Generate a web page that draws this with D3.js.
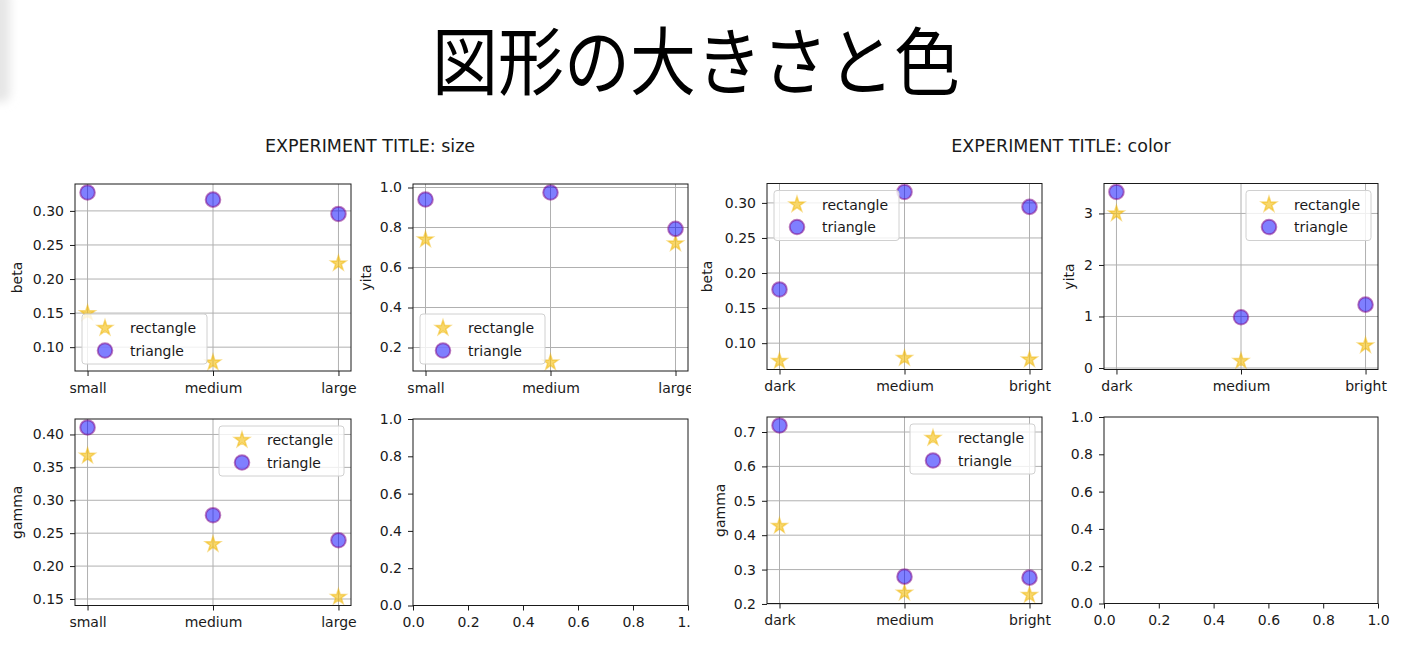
<!DOCTYPE html>
<html>
<head>
<meta charset="utf-8">
<script src="https://cdn.jsdelivr.net/npm/d3@7"></script>
<style>
  html, body { margin: 0; padding: 0; background: #ffffff; }
  svg { display: block; }
  text { font-family: "DejaVu Sans", sans-serif; fill: #1a1a1a; }
</style>
</head>
<body>
<svg id="chart" width="1402" height="671"></svg>
<script>
// ---------------- data ----------------
const mainTitle = "図形の大きさと色";
const figureTitles = ["EXPERIMENT TITLE: size", "EXPERIMENT TITLE: color"];
const seriesNames = ["rectangle", "triangle"];

const categoriesSize = ["small", "medium", "large"];
const categoriesColor = ["dark", "medium", "bright"];

const sizeBetaRect  = [0.150, 0.0775, 0.223];
const sizeBetaTri   = [0.327, 0.3165, 0.2955];
const sizeYitaRect  = [0.74, 0.125, 0.72];
const sizeYitaTri   = [0.94, 0.975, 0.793];
const sizeGammaRect = [0.3675, 0.2332, 0.153];
const sizeGammaTri  = [0.4106, 0.2773, 0.2393];

const colorBetaRect  = [0.0745, 0.0787, 0.0766];
const colorBetaTri   = [0.1766, 0.3156, 0.2943];
const colorYitaRect  = [3.0, 0.135, 0.438];
const colorYitaTri   = [3.417, 0.985, 1.23];
const colorGammaRect = [0.427, 0.2328, 0.226];
const colorGammaTri  = [0.719, 0.2794, 0.2765];

const ticksBeta      = [0.10, 0.15, 0.20, 0.25, 0.30];
const ticksSizeYita  = [0.2, 0.4, 0.6, 0.8, 1.0];
const ticksSizeGamma = [0.15, 0.20, 0.25, 0.30, 0.35, 0.40];
const ticksColorYita = [0, 1, 2, 3];
const ticksColorGamma= [0.2, 0.3, 0.4, 0.5, 0.6, 0.7];
const ticksEmpty     = [0.0, 0.2, 0.4, 0.6, 0.8, 1.0];

// ---------------- layout ----------------
const svg = d3.select("#chart");
const W = 1402, H = 671;

// faint soft shadow at the top-left edge
const defs = svg.append("defs");
defs.append("filter").attr("id", "blur").attr("x", "-50%").attr("y", "-50%")
  .attr("width", "200%").attr("height", "200%")
  .append("feGaussianBlur").attr("stdDeviation", 5);
svg.append("rect").attr("x", -12).attr("y", -10).attr("width", 22).attr("height", 112).attr("rx", 8)
  .attr("fill", "#e6e6e6").attr("filter", "url(#blur)");

svg.append("text")
  .attr("transform", "translate(696,89) scale(1,1.12)")
  .attr("text-anchor", "middle")
  .style("font-family", '"Noto Sans CJK JP", sans-serif')
  .style("font-size", "66px")
  .style("fill", "#000")
  .text(mainTitle);

const figs = [
  { x0: 0, x1: 691, titleX: 370, titleY: 152 },
  { x0: 700, x1: 1402, titleX: 1061, titleY: 152 }
];
figs.forEach((f, i) => {
  defs.append("clipPath").attr("id", "fig" + i)
    .append("rect").attr("x", f.x0).attr("y", 0).attr("width", f.x1 - f.x0).attr("height", H);
  f.g = svg.append("g").attr("clip-path", `url(#fig${i})`);
  f.g.append("text").attr("x", f.titleX).attr("y", f.titleY)
    .attr("text-anchor", "middle").style("font-size", "17.5px").text(figureTitles[i]);
});

const panels = [
  { fig: 0, box: [75, 184, 351, 371], cats: categoriesSize, rect: sizeBetaRect, tri: sizeBetaTri,
    ticks: ticksBeta, fmt: ".2f", label: "beta", labelX: 17, legend: "lower left" },
  { fig: 0, box: [413, 184, 688, 371], cats: categoriesSize, rect: sizeYitaRect, tri: sizeYitaTri,
    ticks: ticksSizeYita, fmt: ".1f", label: "yita", labelX: 366, legend: "lower left" },
  { fig: 0, box: [75, 419, 351, 605.5], cats: categoriesSize, rect: sizeGammaRect, tri: sizeGammaTri,
    ticks: ticksSizeGamma, fmt: ".2f", label: "gamma", labelX: 17, legend: "upper right" },
  { fig: 0, box: [413, 419, 688, 605.5], empty: true, ticks: ticksEmpty, fmt: ".1f" },
  { fig: 1, box: [767, 183.5, 1042, 369.5], cats: categoriesColor, rect: colorBetaRect, tri: colorBetaTri,
    ticks: ticksBeta, fmt: ".2f", label: "beta", labelX: 707, legend: "upper left" },
  { fig: 1, box: [1104, 183.5, 1378, 369.5], cats: categoriesColor, rect: colorYitaRect, tri: colorYitaTri,
    ticks: ticksColorYita, fmt: "d", label: "yita", labelX: 1069, legend: "upper right" },
  { fig: 1, box: [767, 417, 1042, 603.5], cats: categoriesColor, rect: colorGammaRect, tri: colorGammaTri,
    ticks: ticksColorGamma, fmt: ".1f", label: "gamma", labelX: 720, legend: "upper right" },
  { fig: 1, box: [1104, 417, 1378, 603.5], empty: true, ticks: ticksEmpty, fmt: ".1f" }
];

const starPath = d3.symbol().type(d3.symbolStar).size(72)();
const gridColor = "#b0b0b0";
const spineColor = "#1a1a1a";

function drawStar(sel) {
  sel.attr("d", starPath)
    .attr("fill", "#f5c21b").attr("fill-opacity", 0.65)
    .attr("stroke", "#f0b400").attr("stroke-opacity", 0.45).attr("stroke-width", 1.5);
}
function drawCircle(sel) {
  sel.attr("r", 7.3)
    .attr("fill", "blue").attr("fill-opacity", 0.5)
    .attr("stroke", "purple").attr("stroke-opacity", 0.5).attr("stroke-width", 2);
}

panels.forEach(p => {
  const g = figs[p.fig].g.append("g");
  const [L, T, R, B] = p.box;
  let x, y;
  if (p.empty) {
    x = d3.scaleLinear().domain([0, 1]).range([L, R]);
    y = d3.scaleLinear().domain([0, 1]).range([B, T]);
  } else {
    x = d3.scalePoint().domain(p.cats).range([L, R]).padding(0.1);
    const all = p.rect.concat(p.tri);
    const lo = d3.min(all), hi = d3.max(all), m = (hi - lo) * 0.05;
    y = d3.scaleLinear().domain([lo - m, hi + m]).range([B, T]);
  }

  // grid
  if (!p.empty) {
    g.append("g").selectAll("line").data(p.ticks).join("line")
      .attr("x1", L).attr("x2", R).attr("y1", d => y(d)).attr("y2", d => y(d))
      .attr("stroke", gridColor).attr("stroke-width", 1);
    g.append("g").selectAll("line").data(p.cats).join("line")
      .attr("x1", d => x(d)).attr("x2", d => x(d)).attr("y1", T).attr("y2", B)
      .attr("stroke", gridColor).attr("stroke-width", 1);
  }

  // axes
  const xAxis = p.empty
    ? d3.axisBottom(x).tickValues(ticksEmpty).tickFormat(d3.format(".1f"))
    : d3.axisBottom(x);
  const yAxis = d3.axisLeft(y).tickValues(p.ticks).tickFormat(d3.format(p.fmt));
  [
    g.append("g").attr("transform", `translate(0,${B})`).call(xAxis.tickSize(5).tickPadding(7)),
    g.append("g").attr("transform", `translate(${L},0)`).call(yAxis.tickSize(5).tickPadding(6))
  ].forEach(a => {
    a.select(".domain").remove();
    a.selectAll(".tick line").attr("stroke", spineColor).attr("stroke-width", 1);
    a.selectAll(".tick text").style("font-size", "14px").style("font-family", '"DejaVu Sans", sans-serif')
      .attr("fill", "#1a1a1a");
  });

  if (!p.empty) {
    // markers
    g.append("g").selectAll("path").data(p.rect).join("path")
      .attr("transform", (d, i) => `translate(${x(p.cats[i])},${y(d)})`).call(drawStar);
    g.append("g").selectAll("circle").data(p.tri).join("circle")
      .attr("cx", (d, i) => x(p.cats[i])).attr("cy", d => y(d)).call(drawCircle);

    // y label
    g.append("text")
      .attr("transform", `translate(${p.labelX},${(T + B) / 2}) rotate(-90)`)
      .attr("text-anchor", "middle").attr("dominant-baseline", "central")
      .style("font-size", "14px").text(p.label);
  }

  // spines
  g.append("rect").attr("x", L).attr("y", T).attr("width", R - L).attr("height", B - T)
    .attr("fill", "none").attr("stroke", spineColor).attr("stroke-width", 1);

  // legend
  if (!p.empty) {
    const lw = 125, lh = 50, pad = 7;
    const lx = p.legend.includes("left") ? L + pad : R - pad - lw;
    const ly = p.legend.includes("upper") ? T + pad : B - pad - lh;
    const lg = g.append("g").attr("transform", `translate(${lx},${ly})`);
    lg.append("rect").attr("width", lw).attr("height", lh).attr("rx", 3)
      .attr("fill", "#fff").attr("fill-opacity", 0.8)
      .attr("stroke", "#d0d0d0").attr("stroke-width", 1);
    const rows = [14, 36.5];
    lg.append("path").attr("transform", `translate(23,${rows[0]})`).call(drawStar);
    lg.append("circle").attr("cx", 23).attr("cy", rows[1]).call(drawCircle);
    seriesNames.forEach((s, i) => {
      lg.append("text").attr("x", 48).attr("y", rows[i]).attr("dominant-baseline", "central")
        .style("font-size", "14px").text(s);
    });
  }
});
</script>
</body>
</html>
